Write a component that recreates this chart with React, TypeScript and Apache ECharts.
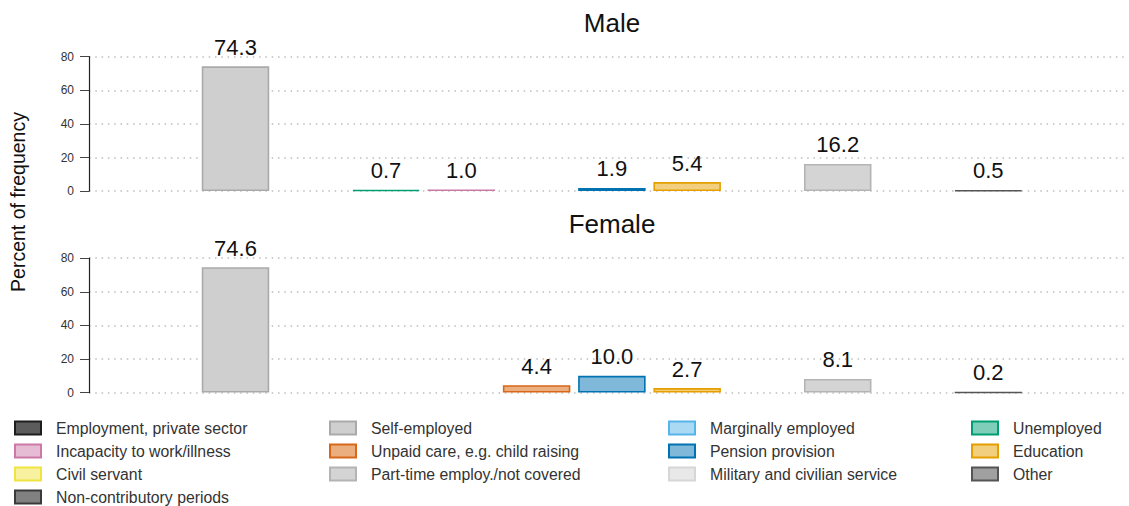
import React, { useEffect, useRef } from "react";
import * as echarts from "echarts";

const categories = [
  "Employment, private sector",
  "Self-employed",
  "Marginally employed",
  "Unemployed",
  "Incapacity to work/illness",
  "Unpaid care, e.g. child raising",
  "Pension provision",
  "Education",
  "Civil servant",
  "Part-time employ./not covered",
  "Military and civilian service",
  "Other",
  "Non-contributory periods",
];

const maleValues: (number | null)[] = [null, 74.3, null, 0.7, 1.0, null, 1.9, 5.4, null, 16.2, null, 0.5, null];
const femaleValues: (number | null)[] = [null, 74.6, null, null, null, 4.4, 10.0, 2.7, null, 8.1, null, 0.2, null];

const fillColors = [
  "#5c5c5c", "#cfcfcf", "#aad9f4", "#7fceb9", "#e5bcd3", "#eaae7f", "#7fb8d8",
  "#f2cf7f", "#f7f1a0", "#d4d4d4", "#e8e8e8", "#a0a0a0", "#808080",
];
const borderColors = [
  "#1e1e1e", "#aaaaaa", "#56b4e9", "#009e73", "#cc79a7", "#d9671a", "#0072b2",
  "#e69f00", "#f0e442", "#b4b4b4", "#d6d6d6", "#555555", "#3a3a3a",
];

const panelTitles = ["Male", "Female"];
const panelValues = [maleValues, femaleValues];
const yTicks = [0, 20, 40, 60, 80];
const yAxisTitle = "Percent of frequency";
const legendColumns = [
  [0, 4, 8, 12],
  [1, 5, 9],
  [2, 6, 10],
  [3, 7, 11],
];

const FONT = "'Liberation Sans', Arial, Helvetica, sans-serif";

export default function App() {
  const ref = useRef<HTMLDivElement>(null);

  useEffect(() => {
    document.body.style.margin = "0";
    if (!ref.current) return;
    const chart = echarts.init(ref.current, undefined, { renderer: "svg" });

    const gridTops = [56.7, 258.2];
    const gridHeight = 134.4;
    const grids = gridTops.map((t) => ({ left: 89, top: t, width: 1039, height: gridHeight }));

    const xAxes = gridTops.map((_, p) => ({
      type: "value",
      gridIndex: p,
      min: -0.946,
      max: 12.856,
      show: false,
    }));

    const yAxes = gridTops.map((_, p) => ({
      type: "value",
      gridIndex: p,
      min: yTicks[0],
      max: yTicks[yTicks.length - 1],
      interval: yTicks[1] - yTicks[0],
      axisLine: { show: true, onZero: false, lineStyle: { color: "#222", width: 1.2 } },
      axisTick: { show: true, length: 9, lineStyle: { color: "#444" } },
      axisLabel: { color: "#333", fontSize: 12, fontFamily: FONT, margin: 15 },
      splitLine: {
        show: true,
        lineStyle: { color: "#bdbdbd", width: 1.5, type: [1.5, 4.8] },
      },
    }));

    const series: any[] = [];
    panelValues.forEach((vals, p) => {
      categories.forEach((name, i) => {
        const v = vals[i];
        series.push({
          name,
          type: "bar",
          xAxisIndex: p,
          yAxisIndex: p,
          stack: "panel" + p,
          barWidth: 67.5,
          data: v == null ? [] : [[i, v]],
          itemStyle: { color: fillColors[i], borderColor: borderColors[i], borderWidth: 1.6 },
          label: {
            show: true,
            position: "top",
            distance: 8,
            fontSize: 22,
            fontFamily: FONT,
            color: "#111",
            formatter: (pr: any) => Number(pr.value[1]).toFixed(1),
          },
        });
      });
    });

    const legendLefts = [14, 329, 668, 971];
    const legends = legendColumns.map((col, c) => ({
      orient: "vertical",
      left: legendLefts[c],
      top: 420,
      padding: 0,
      itemWidth: 26,
      itemHeight: 13,
      itemGap: 7,
      icon: "rect",
      selectedMode: false,
      data: col.map((i) => categories[i]),
      textStyle: { fontSize: 15.8, color: "#333", fontFamily: FONT, padding: [0, 0, 0, 10] },
    }));

    const graphics: any[] = panelTitles.map((t, p) => ({
      type: "text",
      x: 612,
      y: gridTops[p] - 34,
      style: {
        text: t,
        textAlign: "center",
        textVerticalAlign: "middle",
        fontSize: 26,
        fontFamily: FONT,
        fill: "#111",
      },
    }));
    graphics.push({
      type: "text",
      x: 18,
      y: 202,
      rotation: Math.PI / 2,
      style: {
        text: yAxisTitle,
        textAlign: "center",
        textVerticalAlign: "middle",
        fontSize: 19.5,
        fontFamily: FONT,
        fill: "#111",
      },
    });

    chart.setOption({
      animation: false,
      backgroundColor: "#fff",
      grid: grids,
      xAxis: xAxes,
      yAxis: yAxes,
      legend: legends,
      series,
      graphic: graphics,
    });

    return () => chart.dispose();
  }, []);

  return <div ref={ref} style={{ width: 1129, height: 506 }} />;
}
